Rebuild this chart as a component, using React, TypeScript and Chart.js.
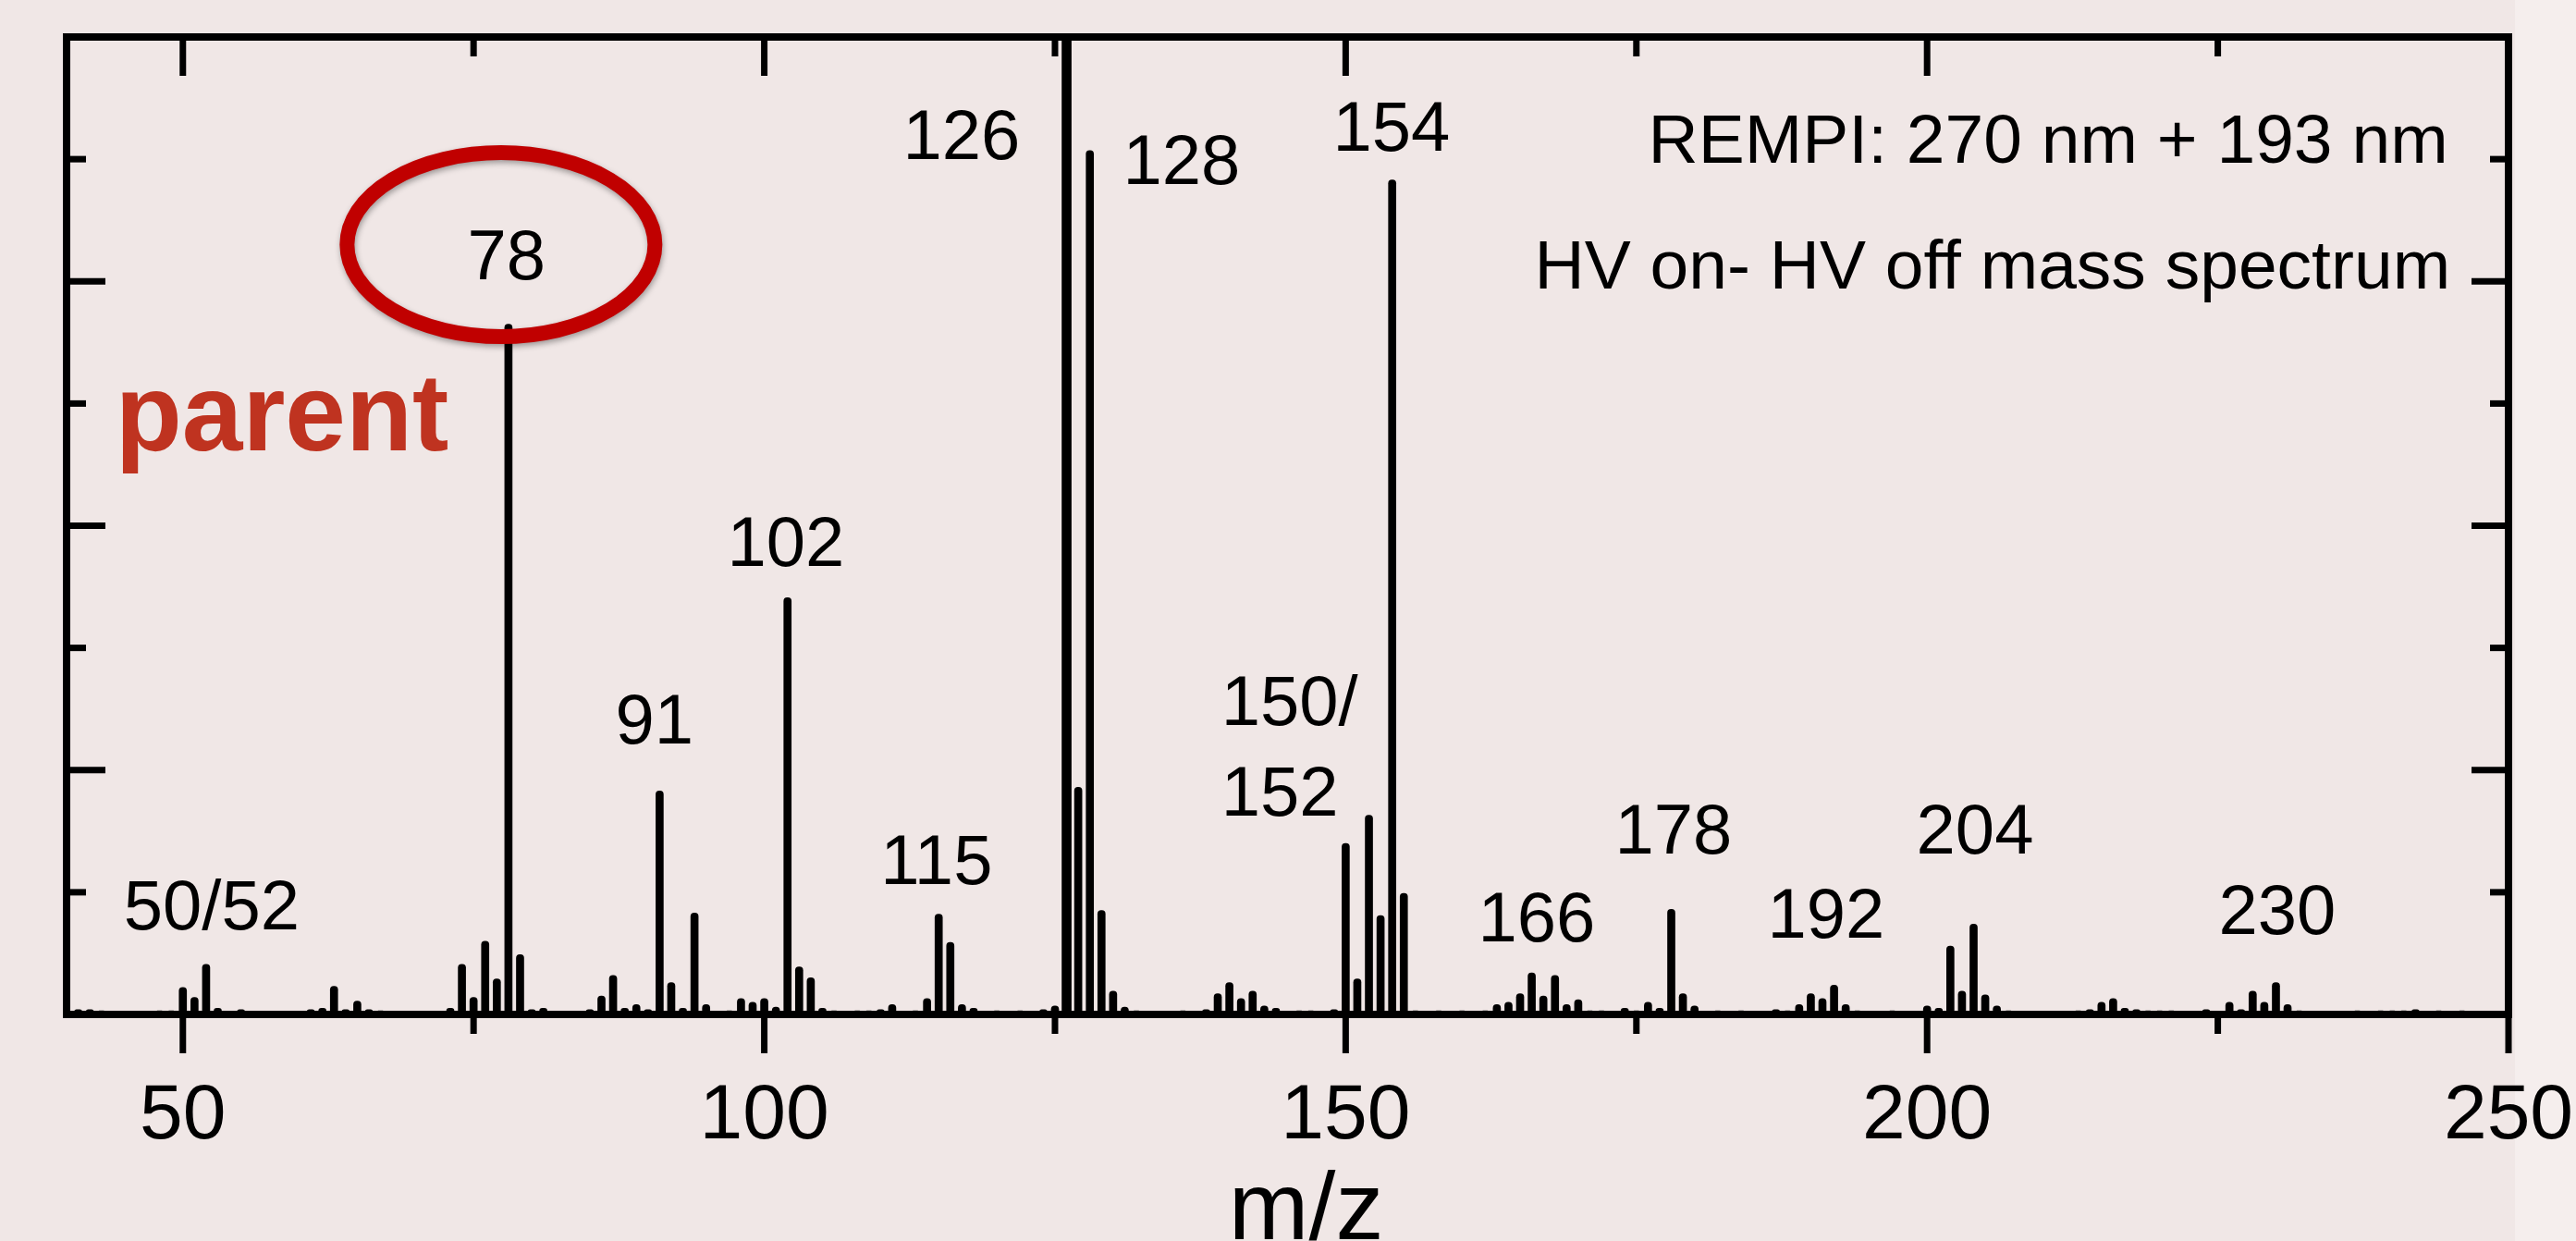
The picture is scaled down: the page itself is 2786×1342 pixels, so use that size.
import React, { useEffect, useRef } from "react";
import { Chart, registerables } from "chart.js";

Chart.register(...registerables);

// ---- data ----
const peakMasses = [
  41, 42, 43, 48, 49, 50, 51, 52, 53, 55, 61, 62, 63, 64, 65, 66, 67, 73, 74, 75, 76, 77, 78, 79, 80, 81,
  85, 86, 87, 88, 89, 90, 91, 92, 93, 94, 95, 97, 98, 99, 100, 101, 102, 103, 104, 105, 106, 108, 109, 110,
  111, 113, 114, 115, 116, 117, 118, 120, 122, 124, 125, 127, 128, 129, 130, 131, 132, 136, 138, 139,
  140, 141, 142, 143, 144, 146, 147, 149, 150, 151, 152, 153, 154, 155, 156, 158, 160, 162, 163, 164, 165,
  166, 167, 168, 169, 170, 171, 172, 174, 175, 176, 177, 178, 179, 180, 182, 184, 187, 188, 189, 190, 191,
  192, 193, 194, 197, 200, 201, 202, 203, 204, 205, 206, 207, 210, 213, 214, 215, 216, 217, 218, 219, 220,
  221, 224, 226, 227, 228, 229, 230, 231, 232, 235, 237, 239, 240, 241, 242, 244, 246,
];
const peakIntensities = [
  0.04, 0.04, 0.03, 0.03, 0.03, 0.22, 0.14, 0.41, 0.05, 0.04, 0.04, 0.05, 0.23, 0.04, 0.11, 0.04, 0.03, 0.05,
  0.41, 0.14, 0.6, 0.29, 5.65, 0.49, 0.04, 0.05,
  0.04, 0.15, 0.32, 0.05, 0.08, 0.04, 1.83, 0.26, 0.05, 0.83, 0.08, 0.03, 0.13, 0.1, 0.13, 0.06, 3.41, 0.39,
  0.3, 0.05, 0.03, 0.03, 0.03, 0.04,
  0.08, 0.03, 0.13, 0.82, 0.59, 0.08, 0.05, 0.03, 0.03, 0.04, 0.07, 1.86, 7.07, 0.85, 0.19, 0.06, 0.03,
  0.03, 0.04, 0.17,
  0.26, 0.13, 0.19, 0.07, 0.05, 0.03, 0.03, 0.04, 1.4, 0.29, 1.63, 0.81, 6.83, 0.99, 0.03, 0.03, 0.03, 0.03,
  0.08, 0.1, 0.17,
  0.34, 0.15, 0.32, 0.08, 0.12, 0.03, 0.03, 0.05, 0.03, 0.1, 0.05, 0.86, 0.17, 0.07, 0.03, 0.03, 0.04, 0.03,
  0.08, 0.17, 0.13,
  0.24, 0.08, 0.03, 0.03, 0.07, 0.05, 0.56, 0.19, 0.74, 0.16, 0.07, 0.03, 0.02, 0.03, 0.04, 0.1, 0.13, 0.05,
  0.04, 0.03, 0.03,
  0.03, 0.04, 0.1, 0.04, 0.19, 0.1, 0.26, 0.08, 0.03, 0.02, 0.03, 0.03, 0.03, 0.03, 0.04, 0.03, 0.03,
];
// saturated peak (runs off the top of the frame)
const saturatedMasses = [126];
const saturatedIntensities = [9.5];

const xTickValues = [50, 100, 150, 200, 250];
const xMinorTickValues = [75, 125, 175, 225];
const yMajorTickValues = [2, 4, 6];
const yMinorTickValues = [1, 3, 5, 7];

const peakLabelTexts = ["50/52", "78", "91", "102", "115", "126", "128", "150/", "152", "154", "166", "178", "192", "204", "230"];
const conditionTexts = ["REMPI: 270 nm + 193 nm", "HV on- HV off mass spectrum"];
const parentText = "parent";
const axisTitle = "m/z";

// ---- annotation placement (in data coordinates) ----
const peakLabelAnchors: { x: number; y: number; align: CanvasTextAlign }[] = [
  { x: 52.47, y: 0.7, align: "center" },
  { x: 77.83, y: 6.02, align: "center" },
  { x: 90.56, y: 2.22, align: "center" },
  { x: 101.85, y: 3.67, align: "center" },
  { x: 114.81, y: 1.07, align: "center" },
  { x: 116.96, y: 7.0, align: "center" },
  { x: 135.89, y: 6.8, align: "center" },
  { x: 139.3, y: 2.37, align: "left" },
  { x: 139.3, y: 1.63, align: "left" },
  { x: 153.94, y: 7.07, align: "center" },
  { x: 166.42, y: 0.6, align: "center" },
  { x: 178.19, y: 1.32, align: "center" },
  { x: 191.31, y: 0.63, align: "center" },
  { x: 204.12, y: 1.32, align: "center" },
  { x: 230.12, y: 0.66, align: "center" },
];
const conditionAnchors = [
  { x: 244.8, y: 6.97 },
  { x: 245.0, y: 5.94 },
];
const parentAnchor = { x: 44.19, y: 4.62 };
const ringAnchor = { x: 77.36, y: 6.3, rx: 13.24, ry: 0.753 };
const titleAnchor = { x: 146.6, y: -1.84 };

const FONT = '"Liberation Sans", Arial, Helvetica, sans-serif';
const W = 2786;
const H = 1342;

const decorPlugin = {
  id: "decor",
  beforeDraw(chart: any) {
    const { ctx } = chart;
    ctx.save();
    ctx.fillStyle = "#F0E7E6";
    ctx.fillRect(0, 0, W, H);
    ctx.fillStyle = "#F5EEED";
    ctx.fillRect(2720, 0, W - 2720, H);
    ctx.restore();
  },
  afterDatasetsDraw(chart: any) {
    const { ctx, chartArea: a } = chart;
    const xs = chart.scales.x;
    const ys = chart.scales.y;
    ctx.save();

    // frame
    ctx.strokeStyle = "#000";
    ctx.lineWidth = 8;
    ctx.lineJoin = "miter";
    ctx.strokeRect(a.left, a.top, a.right - a.left, a.bottom - a.top);

    // ticks
    ctx.lineWidth = 7;
    ctx.lineCap = "butt";
    const major = 42;
    const minor = 21;
    const line = (x1: number, y1: number, x2: number, y2: number) => {
      ctx.beginPath();
      ctx.moveTo(x1, y1);
      ctx.lineTo(x2, y2);
      ctx.stroke();
    };
    xTickValues.forEach((v) => {
      const px = xs.getPixelForValue(v);
      line(px, a.bottom, px, a.bottom + major);
      if (v < 250) line(px, a.top, px, a.top + major);
    });
    xMinorTickValues.forEach((v) => {
      const px = xs.getPixelForValue(v);
      line(px, a.bottom, px, a.bottom + minor);
      line(px, a.top, px, a.top + minor);
    });
    yMajorTickValues.forEach((v) => {
      const py = ys.getPixelForValue(v);
      line(a.left, py, a.left + major, py);
      line(a.right, py, a.right - major + 2, py);
    });
    yMinorTickValues.forEach((v) => {
      const py = ys.getPixelForValue(v);
      line(a.left, py, a.left + minor, py);
      line(a.right, py, a.right - minor + 1, py);
    });

    // peak labels
    ctx.fillStyle = "#000";
    ctx.textBaseline = "alphabetic";
    ctx.font = `76px ${FONT}`;
    peakLabelTexts.forEach((t, i) => {
      const an = peakLabelAnchors[i];
      ctx.textAlign = an.align;
      ctx.fillText(t, xs.getPixelForValue(an.x), ys.getPixelForValue(an.y));
    });

    // condition text
    ctx.font = `75px ${FONT}`;
    ctx.textAlign = "right";
    conditionTexts.forEach((t, i) => {
      const an = conditionAnchors[i];
      ctx.fillText(t, xs.getPixelForValue(an.x), ys.getPixelForValue(an.y));
    });

    // axis title
    ctx.font = `104px ${FONT}`;
    ctx.textAlign = "center";
    ctx.fillText(axisTitle, xs.getPixelForValue(titleAnchor.x), ys.getPixelForValue(titleAnchor.y));

    // parent
    ctx.font = `bold 118px ${FONT}`;
    ctx.fillStyle = "#BF3320";
    ctx.textAlign = "left";
    ctx.fillText(parentText, xs.getPixelForValue(parentAnchor.x), ys.getPixelForValue(parentAnchor.y));

    // red ring around 78
    const cx = xs.getPixelForValue(ringAnchor.x);
    const cy = ys.getPixelForValue(ringAnchor.y);
    const rx = xs.getPixelForValue(ringAnchor.x + ringAnchor.rx) - cx;
    const ry = cy - ys.getPixelForValue(ringAnchor.y + ringAnchor.ry);
    ctx.shadowColor = "rgba(0,0,0,0.35)";
    ctx.shadowBlur = 6;
    ctx.shadowOffsetX = 1;
    ctx.shadowOffsetY = 3;
    ctx.strokeStyle = "#C00000";
    ctx.lineWidth = 16;
    ctx.beginPath();
    ctx.ellipse(cx, cy, rx, ry, 0, 0, Math.PI * 2);
    ctx.stroke();

    ctx.restore();
  },
};

export default function App() {
  const ref = useRef<HTMLCanvasElement | null>(null);

  useEffect(() => {
    if (!ref.current) return;
    const chart = new Chart(ref.current, {
      type: "bar",
      data: {
        datasets: [
          {
            data: peakMasses.map((m, i) => ({ x: m, y: peakIntensities[i] })) as any,
            backgroundColor: "#000",
            borderWidth: 0,
            barThickness: 8,
            grouped: false,
            borderRadius: { topLeft: 4, topRight: 4, bottomLeft: 0, bottomRight: 0 },
            borderSkipped: "start",
          } as any,
          {
            data: saturatedMasses.map((m, i) => ({ x: m, y: saturatedIntensities[i] })) as any,
            backgroundColor: "#000",
            borderWidth: 0,
            barThickness: 10,
            grouped: false,
            borderSkipped: "start",
          } as any,
        ],
      },
      options: {
        responsive: false,
        animation: false,
        devicePixelRatio: 1,
        layout: { padding: { top: 40, right: 73, left: 0, bottom: 0 } },
        plugins: {
          legend: { display: false },
          tooltip: { enabled: false },
        },
        scales: {
          x: {
            type: "linear",
            min: 40,
            max: 250,
            offset: false,
            position: "bottom",
            grid: { display: false, drawTicks: false, offset: false },
            border: { display: false },
            afterBuildTicks: (s: any) => {
              s.ticks = xTickValues.map((v) => ({ value: v }));
            },
            afterFit: (s: any) => {
              s.height = 245;
              s.paddingLeft = 0;
              s.paddingRight = 0;
            },
            ticks: {
              font: { family: FONT, size: 84 },
              color: "#000",
              padding: 60,
              maxRotation: 0,
              autoSkip: false,
            },
          } as any,
          y: {
            min: 0,
            max: 8,
            grid: { display: false, drawTicks: false },
            border: { display: false },
            ticks: { display: false },
            afterFit: (s: any) => {
              s.width = 72;
              s.paddingTop = 0;
              s.paddingBottom = 0;
            },
          } as any,
        },
      },
      plugins: [decorPlugin as any],
    });
    return () => chart.destroy();
  }, []);

  return (
    <div style={{ position: "fixed", left: 0, top: 0, width: W, height: H, background: "#F0E7E6" }}>
      <canvas ref={ref} width={W} height={H} style={{ width: W, height: H, display: "block" }} />
    </div>
  );
}
